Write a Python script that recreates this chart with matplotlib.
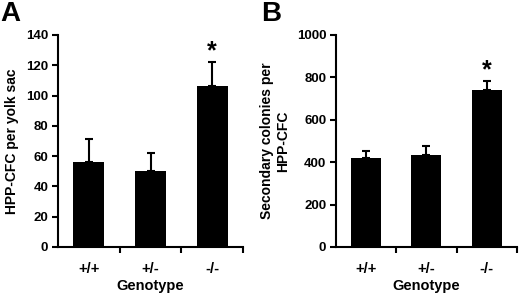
import numpy as np
from matplotlib import pyplot as plt

genotypes = ["+/+", "+/-", "-/-"]
hpp_cfc = [56, 50, 106]
hpp_cfc_err = [15, 12, 16]
secondary = [420, 435, 740]
secondary_err = [35, 40, 45]

plt.rcParams['font.family'] = ['Liberation Sans', 'DejaVu Sans']
plt.rcParams['font.weight'] = 'bold'

fig = plt.figure(figsize=(5.2, 2.94), dpi=100)
axA = fig.add_axes([0.1115, 0.160, 0.356, 0.721])
axB = fig.add_axes([0.646, 0.160, 0.348, 0.721])


def panel(ax, vals, errs, ymax, step, ylabel, star_y):
    x = np.arange(len(genotypes))
    ax.bar(x, vals, width=0.5, color='black')
    ax.errorbar(x, vals, yerr=[np.zeros(len(errs)), errs], fmt='none',
                ecolor='black', elinewidth=1.5, capsize=3, capthick=1.5)
    ax.set_xlim(-0.5, 2.5)
    ax.set_ylim(0, ymax)
    ax.set_yticks(np.arange(0, ymax + 1, step))
    ax.set_xticks(x)
    ax.set_xticklabels(genotypes, fontsize=10.5, fontweight='bold')
    ax.set_xticks([0.5, 1.5, 2.5], minor=True)
    ax.tick_params(axis='x', which='major', length=0, pad=11)
    ax.tick_params(axis='x', which='minor', length=4, width=1.5, direction='out')
    ax.tick_params(axis='y', length=4, width=1.5, direction='out', labelsize=9.5, pad=3)
    for lab in ax.get_yticklabels():
        lab.set_fontweight('bold')
    ax.spines['top'].set_visible(False)
    ax.spines['right'].set_visible(False)
    ax.spines['left'].set_linewidth(1.5)
    ax.spines['bottom'].set_linewidth(1.5)
    ax.set_xlabel("Genotype", fontsize=10.5, fontweight='bold', labelpad=2)
    ax.set_ylabel(ylabel, fontsize=10, fontweight='bold', labelpad=5)
    ax.text(2, star_y, "*", ha='center', va='center', fontsize=18, fontweight='bold')


panel(axA, hpp_cfc, hpp_cfc_err, 140, 20, "HPP-CFC per yolk sac", 129)
panel(axB, secondary, secondary_err, 1000, 200, "Secondary colonies per\nHPP-CFC", 835)

fig.text(0.0, 0.995, "A", fontsize=20, fontweight='bold', va='top', ha='left')
fig.text(0.502, 0.995, "B", fontsize=20, fontweight='bold', va='top', ha='left')

plt.savefig("out.png", dpi=100)
